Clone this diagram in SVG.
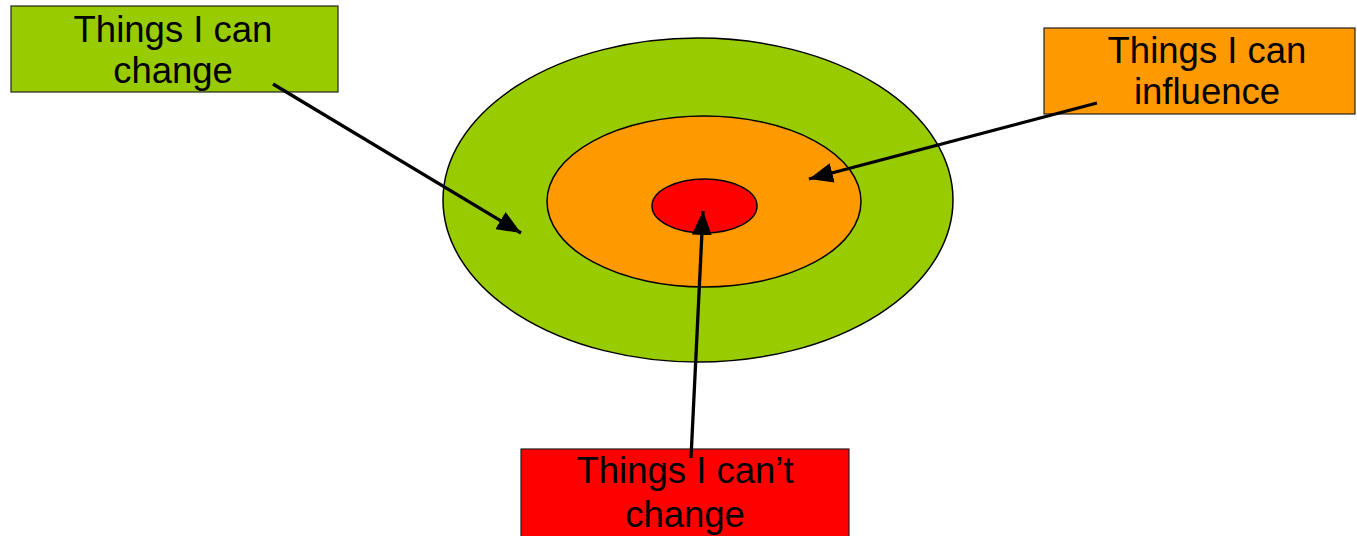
<svg xmlns="http://www.w3.org/2000/svg" width="1357" height="536" viewBox="0 0 1357 536">
<style>
.box{stroke:#222;stroke-width:1.2}
.ring{stroke:#000;stroke-width:1.5}
.lbl{font-family:"Liberation Sans",Arial,sans-serif;font-size:36.5px;fill:#000;text-anchor:middle}
.conn{stroke:#000;stroke-width:3.3;fill:none;marker-end:url(#ah)}
</style>
<defs>
<marker id="ah" markerUnits="userSpaceOnUse" markerWidth="26" markerHeight="20" refX="24" refY="10" orient="auto">
<path d="M0,0 L24,10 L0,20 Z" fill="#000"/>
</marker>
</defs>
<g id="target">
<ellipse cx="698" cy="200" rx="255" ry="162" fill="#99CC00" class="ring"/>
<ellipse cx="704" cy="201.5" rx="157" ry="85.5" fill="#FF9900" class="ring"/>
<ellipse cx="704.5" cy="206" rx="52.5" ry="27" fill="#FF0000" class="ring"/>
</g>
<g id="node-change">
<rect x="11" y="6" width="327" height="86" fill="#99CC00" class="box"/>
<text class="lbl" x="173" y="42">Things I can</text>
<text class="lbl" x="173" y="83">change</text>
</g>
<g id="node-influence">
<rect x="1044" y="28" width="311" height="86" fill="#FF9900" class="box"/>
<text class="lbl" x="1207" y="63">Things I can</text>
<text class="lbl" x="1207" y="104">influence</text>
</g>
<g id="node-cant">
<rect x="521" y="449" width="328" height="95" fill="#FF0000" class="box"/>
<text class="lbl" x="685" y="483">Things I can’t</text>
<text class="lbl" x="685" y="527">change</text>
</g>
<g id="connectors">
<line class="conn" x1="273" y1="84" x2="521" y2="233"/>
<line class="conn" x1="1097" y1="103" x2="809" y2="179"/>
<line class="conn" x1="691" y1="458" x2="703" y2="211"/>
</g>
</svg>
